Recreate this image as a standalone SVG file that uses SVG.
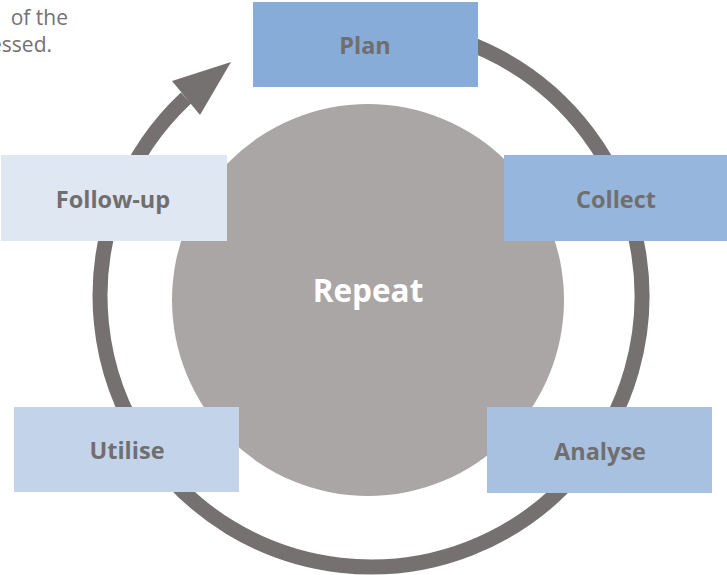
<svg xmlns="http://www.w3.org/2000/svg" width="727" height="575" viewBox="0 0 727 575">
<style>
.lbl{font-family:"Open Sans","Noto Sans",sans-serif;font-weight:700;font-size:23.5px;fill:#716E6E;text-anchor:middle;dominant-baseline:central}
.note{font-family:"Open Sans","Noto Sans",sans-serif;font-size:21px;fill:#767171;text-anchor:end}
</style>
<rect width="727" height="575" fill="#FFFFFF"/>
<text class="note" x="68" y="25">of the</text>
<text class="note" x="52" y="52">essed.</text>
<g id="connectors">
<path d="M373 25 A271 271 0 1 1 186 98" fill="none" stroke="#767171" stroke-width="15"/>
<polygon points="172,81 200,115 231,62" fill="#767171"/>
</g>
<g id="repeat">
<circle cx="368" cy="300" r="196" fill="#AAA6A5"/>
<text class="lbl" x="368" y="289" style="fill:#FFFFFF;font-size:31.5px">Repeat</text>
</g>
<g id="plan">
<rect x="253" y="2" width="225" height="85" fill="#86ACD7"/>
<text class="lbl" x="365" y="45">Plan</text>
</g>
<g id="collect">
<rect x="504" y="155" width="223" height="86" fill="#96B6DD"/>
<text class="lbl" x="616" y="199">Collect</text>
</g>
<g id="analyse">
<rect x="487" y="407" width="225" height="86" fill="#A8C1E1"/>
<text class="lbl" x="600" y="451">Analyse</text>
</g>
<g id="utilise">
<rect x="14" y="407" width="225" height="85" fill="#C3D4EA"/>
<text class="lbl" x="127" y="450">Utilise</text>
</g>
<g id="follow-up">
<rect x="1" y="155" width="226" height="86" fill="#DFE7F3"/>
<text class="lbl" x="113" y="199">Follow-up</text>
</g>
</svg>
